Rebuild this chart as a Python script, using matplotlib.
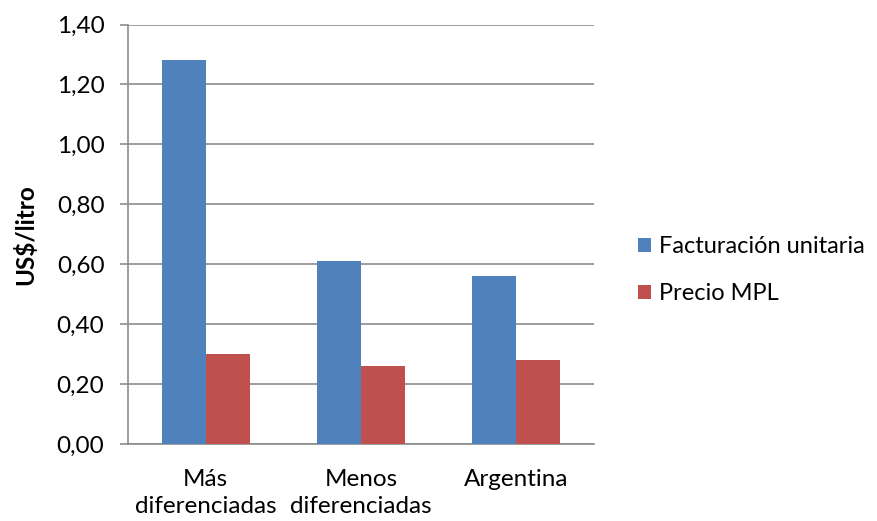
import matplotlib
matplotlib.use("Agg")
import matplotlib.pyplot as plt
import numpy as np
from matplotlib.ticker import FuncFormatter

plt.rcParams['font.family'] = ['Lato', 'DejaVu Sans']

categories = ["Más\ndiferenciadas", "Menos\ndiferenciadas", "Argentina"]
facturacion = [1.28, 0.61, 0.56]
precio_mpl = [0.30, 0.26, 0.28]
series_names = ["Facturación unitaria", "Precio MPL"]
colors = ["#4F81BD", "#C0504D"]

FS = 17.5

fig = plt.figure(figsize=(8.78, 5.21), dpi=100)
ax = fig.add_axes([128/878, 77/521, (594-128)/878, (444-24.5)/521])

x = np.arange(len(categories))
w = 0.283
ax.bar(x - w/2, facturacion, w, color=colors[0], label=series_names[0], zorder=3)
ax.bar(x + w/2, precio_mpl, w, color=colors[1], label=series_names[1], zorder=3)

ax.set_xlim(-0.5, len(categories) - 0.5)
ax.set_ylim(0, 1.40)
ax.set_yticks(np.arange(0, 1.41, 0.20))
ax.yaxis.set_major_formatter(FuncFormatter(lambda v, p: f"{v:.2f}".replace(".", ",")))
ax.yaxis.grid(True, color="#8C8C8C", linewidth=1.2, zorder=0)

for s in ["top", "right"]:
    ax.spines[s].set_visible(False)
ax.spines["left"].set_color("#8C8C8C")
ax.spines["bottom"].set_color("#8C8C8C")
ax.spines["left"].set_linewidth(1.2)
ax.spines["bottom"].set_linewidth(1.2)

ax.tick_params(axis="y", length=6, width=1.2, color="#8C8C8C", labelsize=FS, pad=11)
ax.tick_params(axis="x", length=0, labelsize=FS, pad=18)
ax.set_xticks(x)
ax.set_xticklabels(categories, linespacing=1.35)

ax.set_ylabel("US$/litro", fontsize=FS, fontweight="bold", labelpad=14)

leg = fig.legend(loc="center left", bbox_to_anchor=(626/878, 1 - 270/521),
                 frameon=False, fontsize=17, handlelength=0.55, handleheight=0.55,
                 handletextpad=0.35, labelspacing=1.1, borderpad=0)

fig.savefig("out.png", dpi=100)
